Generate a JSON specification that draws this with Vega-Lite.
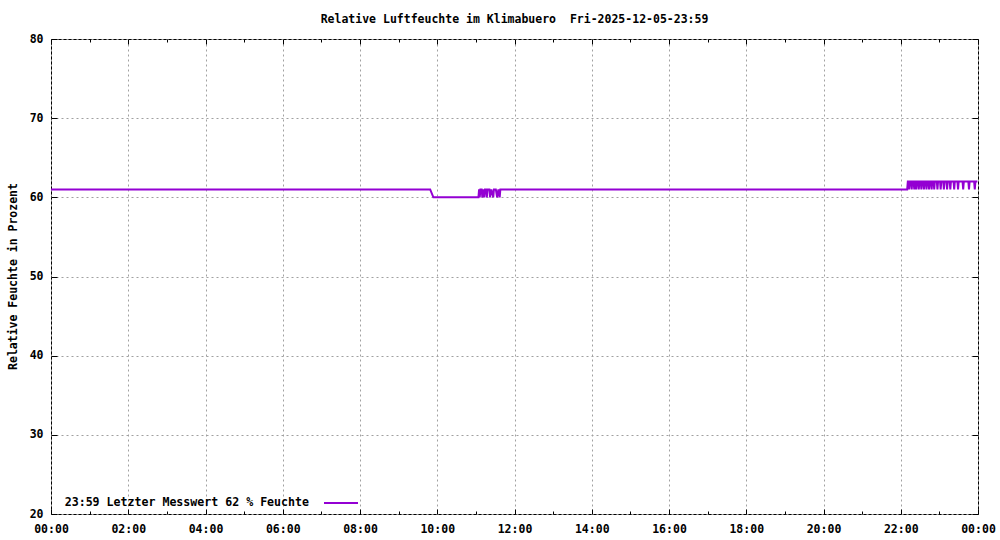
{
  "$schema": "https://vega.github.io/schema/vega-lite/v6.json",
  "width": 927,
  "height": 475,
  "autosize": {"type": "none"},
  "padding": {"left": 51, "top": 39, "right": 22, "bottom": 26},
  "background": "white",
  "config": {
    "view": {"stroke": "black", "strokeWidth": 1},
    "font": "DejaVu Sans Mono"
  },
  "title": {
    "text": "Relative Luftfeuchte im Klimabuero \u00a0Fri-2025-12-05-23:59",
    "font": "DejaVu Sans Mono",
    "fontSize": 11.5,
    "fontWeight": "bold",
    "color": "black",
    "anchor": "middle",
    "offset": 8
  },
  "data": {
    "values": [
      {"t": "2025-12-05T00:00", "v": 61},
      {"t": "2025-12-05T03:00", "v": 61},
      {"t": "2025-12-05T06:00", "v": 61},
      {"t": "2025-12-05T09:49", "v": 61},
      {"t": "2025-12-05T09:54", "v": 60},
      {"t": "2025-12-05T11:04", "v": 60},
      {"t": "2025-12-05T11:05", "v": 61},
      {"t": "2025-12-05T11:06", "v": 60},
      {"t": "2025-12-05T11:07", "v": 61},
      {"t": "2025-12-05T11:09", "v": 61},
      {"t": "2025-12-05T11:10", "v": 60},
      {"t": "2025-12-05T11:11", "v": 61},
      {"t": "2025-12-05T11:13", "v": 60},
      {"t": "2025-12-05T11:14", "v": 61},
      {"t": "2025-12-05T11:16", "v": 61},
      {"t": "2025-12-05T11:17", "v": 60},
      {"t": "2025-12-05T11:18", "v": 61},
      {"t": "2025-12-05T11:21", "v": 61},
      {"t": "2025-12-05T11:22", "v": 60},
      {"t": "2025-12-05T11:24", "v": 61},
      {"t": "2025-12-05T11:27", "v": 60},
      {"t": "2025-12-05T11:28", "v": 61},
      {"t": "2025-12-05T11:31", "v": 61},
      {"t": "2025-12-05T11:33", "v": 60},
      {"t": "2025-12-05T11:35", "v": 61},
      {"t": "2025-12-05T11:37", "v": 60},
      {"t": "2025-12-05T11:38", "v": 61},
      {"t": "2025-12-05T14:00", "v": 61},
      {"t": "2025-12-05T18:00", "v": 61},
      {"t": "2025-12-05T22:10", "v": 61},
      {"t": "2025-12-05T22:11", "v": 62},
      {"t": "2025-12-05T22:12", "v": 62},
      {"t": "2025-12-05T22:13", "v": 61},
      {"t": "2025-12-05T22:14", "v": 62},
      {"t": "2025-12-05T22:16", "v": 62},
      {"t": "2025-12-05T22:17", "v": 61},
      {"t": "2025-12-05T22:18", "v": 62},
      {"t": "2025-12-05T22:20", "v": 62},
      {"t": "2025-12-05T22:21", "v": 61},
      {"t": "2025-12-05T22:22", "v": 62},
      {"t": "2025-12-05T22:23", "v": 62},
      {"t": "2025-12-05T22:24", "v": 61},
      {"t": "2025-12-05T22:25", "v": 62},
      {"t": "2025-12-05T22:27", "v": 62},
      {"t": "2025-12-05T22:28", "v": 61},
      {"t": "2025-12-05T22:29", "v": 62},
      {"t": "2025-12-05T22:31", "v": 62},
      {"t": "2025-12-05T22:32", "v": 61},
      {"t": "2025-12-05T22:33", "v": 62},
      {"t": "2025-12-05T22:35", "v": 62},
      {"t": "2025-12-05T22:36", "v": 61},
      {"t": "2025-12-05T22:37", "v": 62},
      {"t": "2025-12-05T22:39", "v": 62},
      {"t": "2025-12-05T22:40", "v": 61},
      {"t": "2025-12-05T22:41", "v": 62},
      {"t": "2025-12-05T22:43", "v": 62},
      {"t": "2025-12-05T22:44", "v": 61},
      {"t": "2025-12-05T22:45", "v": 62},
      {"t": "2025-12-05T22:47", "v": 62},
      {"t": "2025-12-05T22:48", "v": 61},
      {"t": "2025-12-05T22:49", "v": 62},
      {"t": "2025-12-05T22:51", "v": 62},
      {"t": "2025-12-05T22:52", "v": 61},
      {"t": "2025-12-05T22:53", "v": 62},
      {"t": "2025-12-05T22:56", "v": 62},
      {"t": "2025-12-05T22:57", "v": 61},
      {"t": "2025-12-05T22:58", "v": 62},
      {"t": "2025-12-05T23:01", "v": 62},
      {"t": "2025-12-05T23:02", "v": 61},
      {"t": "2025-12-05T23:03", "v": 62},
      {"t": "2025-12-05T23:06", "v": 62},
      {"t": "2025-12-05T23:07", "v": 61},
      {"t": "2025-12-05T23:08", "v": 62},
      {"t": "2025-12-05T23:11", "v": 62},
      {"t": "2025-12-05T23:12", "v": 61},
      {"t": "2025-12-05T23:13", "v": 62},
      {"t": "2025-12-05T23:16", "v": 62},
      {"t": "2025-12-05T23:17", "v": 61},
      {"t": "2025-12-05T23:18", "v": 62},
      {"t": "2025-12-05T23:22", "v": 62},
      {"t": "2025-12-05T23:23", "v": 61},
      {"t": "2025-12-05T23:24", "v": 62},
      {"t": "2025-12-05T23:28", "v": 62},
      {"t": "2025-12-05T23:29", "v": 61},
      {"t": "2025-12-05T23:30", "v": 62},
      {"t": "2025-12-05T23:36", "v": 62},
      {"t": "2025-12-05T23:37", "v": 61},
      {"t": "2025-12-05T23:38", "v": 62},
      {"t": "2025-12-05T23:45", "v": 62},
      {"t": "2025-12-05T23:46", "v": 61},
      {"t": "2025-12-05T23:47", "v": 62},
      {"t": "2025-12-05T23:54", "v": 62},
      {"t": "2025-12-05T23:55", "v": 61},
      {"t": "2025-12-05T23:56", "v": 62},
      {"t": "2025-12-05T23:59", "v": 62}
    ]
  },
  "layer": [
    {
      "mark": {"type": "line", "strokeWidth": 2, "clip": true},
      "encoding": {
        "x": {
          "field": "t",
          "type": "temporal",
          "scale": {"domain": [{"year": 2025, "month": 12, "date": 5, "hours": 0}, {"year": 2025, "month": 12, "date": 6, "hours": 0}]},
          "axis": {
            "orient": "bottom",
            "title": null,
            "domain": false,
            "values": [
              {"year": 2025, "month": 12, "date": 5, "hours": 0},
              {"year": 2025, "month": 12, "date": 5, "hours": 2},
              {"year": 2025, "month": 12, "date": 5, "hours": 4},
              {"year": 2025, "month": 12, "date": 5, "hours": 6},
              {"year": 2025, "month": 12, "date": 5, "hours": 8},
              {"year": 2025, "month": 12, "date": 5, "hours": 10},
              {"year": 2025, "month": 12, "date": 5, "hours": 12},
              {"year": 2025, "month": 12, "date": 5, "hours": 14},
              {"year": 2025, "month": 12, "date": 5, "hours": 16},
              {"year": 2025, "month": 12, "date": 5, "hours": 18},
              {"year": 2025, "month": 12, "date": 5, "hours": 20},
              {"year": 2025, "month": 12, "date": 5, "hours": 22},
              {"year": 2025, "month": 12, "date": 6, "hours": 0}
            ],
            "format": "%H:%M",
            "labelOverlap": false,
            "labelFlush": false,
            "labelFont": "DejaVu Sans Mono",
            "labelFontSize": 11.5,
            "labelFontWeight": "bold",
            "labelColor": "black",
            "labelPadding": 14,
            "tickColor": "black",
            "tickSize": -5,
            "grid": true,
            "gridColor": "#a0a0a0",
            "gridDash": [2, 3]
          }
        },
        "y": {
          "field": "v",
          "type": "quantitative",
          "scale": {"domain": [20, 80], "nice": false, "zero": false},
          "axis": {
            "orient": "left",
            "values": [20, 30, 40, 50, 60, 70, 80],
            "title": "Relative Feuchte in Prozent",
            "titleFont": "DejaVu Sans Mono",
            "titleFontSize": 11.5,
            "titleFontWeight": "bold",
            "titleColor": "black",
            "titleX": -38,
            "titleY": 237,
            "titleAngle": -90,
            "titleBaseline": "middle",
            "titleAlign": "center",
            "domain": false,
            "labelFont": "DejaVu Sans Mono",
            "labelFontSize": 11.5,
            "labelFontWeight": "bold",
            "labelColor": "black",
            "labelPadding": 14,
            "tickColor": "black",
            "tickSize": -6,
            "grid": true,
            "gridColor": "#a0a0a0",
            "gridDash": [2, 3]
          }
        },
        "color": {
          "datum": "23:59 Letzter Messwert 62 % Feuchte",
          "type": "nominal",
          "scale": {"range": ["#9400d3"]},
          "legend": {
            "title": null,
            "orient": "none",
            "legendX": 272,
            "legendY": 446,
            "padding": 0,
            "symbolType": "stroke",
            "symbolSize": 1156,
            "symbolStrokeWidth": 2,
            "labelAlign": "right",
            "labelOffset": -50,
            "labelFont": "DejaVu Sans Mono",
            "labelFontSize": 11.6,
            "labelFontWeight": "bold",
            "labelColor": "black",
            "labelLimit": 0
          }
        }
      }
    },
    {
      "mark": {"type": "line", "strokeWidth": 2, "opacity": 0},
      "encoding": {
        "x": {
          "field": "t",
          "type": "temporal",
          "axis": {
            "orient": "top",
            "title": null,
            "domain": false,
            "labels": false,
            "grid": false,
            "values": [
              {"year": 2025, "month": 12, "date": 5, "hours": 0},
              {"year": 2025, "month": 12, "date": 5, "hours": 2},
              {"year": 2025, "month": 12, "date": 5, "hours": 4},
              {"year": 2025, "month": 12, "date": 5, "hours": 6},
              {"year": 2025, "month": 12, "date": 5, "hours": 8},
              {"year": 2025, "month": 12, "date": 5, "hours": 10},
              {"year": 2025, "month": 12, "date": 5, "hours": 12},
              {"year": 2025, "month": 12, "date": 5, "hours": 14},
              {"year": 2025, "month": 12, "date": 5, "hours": 16},
              {"year": 2025, "month": 12, "date": 5, "hours": 18},
              {"year": 2025, "month": 12, "date": 5, "hours": 20},
              {"year": 2025, "month": 12, "date": 5, "hours": 22},
              {"year": 2025, "month": 12, "date": 6, "hours": 0}
            ],
            "tickColor": "black",
            "tickSize": -5
          }
        },
        "y": {
          "field": "v",
          "type": "quantitative",
          "axis": {
            "orient": "right",
            "title": null,
            "values": [20, 30, 40, 50, 60, 70, 80],
            "domain": false,
            "labels": false,
            "grid": false,
            "tickColor": "black",
            "tickSize": -6
          }
        }
      }
    },
    {
      "mark": {"type": "line", "strokeWidth": 2, "opacity": 0},
      "encoding": {
        "x": {
          "field": "t",
          "type": "temporal",
          "axis": {
            "orient": "bottom",
            "title": null,
            "domain": false,
            "labels": false,
            "grid": false,
            "values": [
              {"year": 2025, "month": 12, "date": 5, "hours": 1},
              {"year": 2025, "month": 12, "date": 5, "hours": 3},
              {"year": 2025, "month": 12, "date": 5, "hours": 5},
              {"year": 2025, "month": 12, "date": 5, "hours": 7},
              {"year": 2025, "month": 12, "date": 5, "hours": 9},
              {"year": 2025, "month": 12, "date": 5, "hours": 11},
              {"year": 2025, "month": 12, "date": 5, "hours": 13},
              {"year": 2025, "month": 12, "date": 5, "hours": 15},
              {"year": 2025, "month": 12, "date": 5, "hours": 17},
              {"year": 2025, "month": 12, "date": 5, "hours": 19},
              {"year": 2025, "month": 12, "date": 5, "hours": 21},
              {"year": 2025, "month": 12, "date": 5, "hours": 23}
            ],
            "tickColor": "black",
            "tickSize": -3
          }
        },
        "y": {"field": "v", "type": "quantitative", "axis": null}
      }
    },
    {
      "mark": {"type": "line", "strokeWidth": 2, "opacity": 0},
      "encoding": {
        "x": {
          "field": "t",
          "type": "temporal",
          "axis": {
            "orient": "top",
            "title": null,
            "domain": false,
            "labels": false,
            "grid": false,
            "values": [
              {"year": 2025, "month": 12, "date": 5, "hours": 1},
              {"year": 2025, "month": 12, "date": 5, "hours": 3},
              {"year": 2025, "month": 12, "date": 5, "hours": 5},
              {"year": 2025, "month": 12, "date": 5, "hours": 7},
              {"year": 2025, "month": 12, "date": 5, "hours": 9},
              {"year": 2025, "month": 12, "date": 5, "hours": 11},
              {"year": 2025, "month": 12, "date": 5, "hours": 13},
              {"year": 2025, "month": 12, "date": 5, "hours": 15},
              {"year": 2025, "month": 12, "date": 5, "hours": 17},
              {"year": 2025, "month": 12, "date": 5, "hours": 19},
              {"year": 2025, "month": 12, "date": 5, "hours": 21},
              {"year": 2025, "month": 12, "date": 5, "hours": 23}
            ],
            "tickColor": "black",
            "tickSize": -3
          }
        },
        "y": {"field": "v", "type": "quantitative", "axis": null}
      }
    }
  ],
  "resolve": {"axis": {"x": "independent", "y": "independent"}}
}
